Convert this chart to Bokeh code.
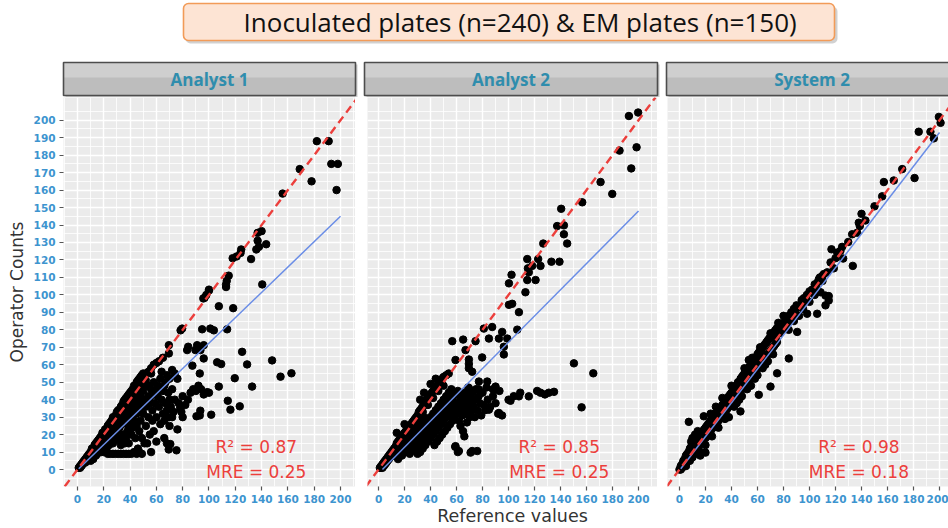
from bokeh.plotting import figure
from bokeh.layouts import column, row
from bokeh.models import Range1d, Label, BoxAnnotation, FixedTicker, Slope
from bokeh.embed import file_html
from bokeh.resources import INLINE

# ---------------- data ----------------
TITLE = "Inoculated plates (n=240)  & EM plates (n=150)"
PANELS = ["Analyst 1", "Analyst 2", "System 2"]
R2_TEXT = ["R² = 0.87", "R² = 0.85", "R² = 0.98"]
MRE_TEXT = ["MRE = 0.25", "MRE = 0.25", "MRE = 0.18"]
X_LABEL = "Reference values"
Y_LABEL = "Operator Counts"
X_TICKS = [0, 20, 40, 60, 80, 100, 120, 140, 160, 180, 200]
X_MINOR = [-10, 10, 30, 50, 70, 90, 110, 130, 150, 170, 190, 210]
Y_TICKS = [0, 10, 20, 30, 40, 50, 60, 70, 80, 90, 100, 110, 120, 130, 140,
           150, 160, 170, 180, 190, 200]
Y_MINOR = [-5, 5, 15, 25, 35, 45, 55, 65, 75, 85, 95, 105, 115, 125, 135,
           145, 155, 165, 175, 185, 195, 205]

# fitted (blue) regression segments
FIT_X = [[1, 200], [3, 200], [1, 200]]
FIT_Y = [[0.5, 145], [0, 148], [0.5, 193]]

analyst1 = [
    (182, 188), (191, 188), (193, 175), (198, 175), (197, 160), (178, 165), (169, 172), (156, 158),
    (140, 136.5), (137, 135.5), (137, 131), (143.5, 129), (138, 127.5), (136, 126), (132, 120.5), (140.5, 106),
    (124.5, 126), (124, 124), (121, 122), (118, 121), (115, 111), (113.5, 108), (113, 106), (113, 104.5),
    (100, 103), (98, 100), (95.7, 98), (100, 102.5), (96.6, 98.3),
    (107.5, 93.5), (118.4, 92.4), (94.8, 80.3), (101, 80.7), (103.7, 79.7), (113.8, 80.3), (79.6, 80.7), (78.4, 79.7),
    (69.5, 71.2), (69.5, 66.5), (84.2, 70.3), (91, 71.2), (93.5, 68.4), (96, 71.2), (89.7, 68.4), (83.4, 68.4),
    (96, 63.6), (87.4, 59.5), (106.2, 61.4), (109.3, 60.4), (129, 60.2), (125.2, 67.4), (148, 62.5), (154.4, 53.2),
    (162.7, 55.1), (132.8, 47.5), (107.5, 47.5), (119.6, 52.3), (98.6, 44.3), (93, 55), (114.3, 39.4), (116.3, 34.3),
    (123.4, 36.2), (101.7, 31.4), (90.5, 30.5), (93.4, 33.7), (93, 31), (69.4, 11.5), (75.3, 11), (70.6, 14.6),
    (1, 1), (2, 2), (2, 1), (3, 3), (3, 2), (4, 4), (4, 3), (5, 5), (5, 4), (6, 6), (6, 4), (7, 7), (7, 5),
    (8, 8), (8, 6), (9, 9), (9, 7), (10, 10), (10, 8), (11, 12), (11, 9), (12, 12), (12, 10), (13, 14), (13, 11),
    (14, 15), (14, 12), (15, 16), (15, 13), (16, 17), (16, 14), (17, 18), (18, 19), (18, 15), (19, 21), (20, 21),
    (20, 17), (21, 23), (22, 23), (22, 19), (23, 25), (24, 26), (24, 20), (25, 27), (26, 28), (26, 22), (27, 30),
    (28, 29), (28, 24), (29, 31), (30, 33), (30, 26), (31, 34), (32, 34), (33, 36), (33, 29), (34, 37), (35, 39),
    (35, 31), (36, 40), (37, 41), (38, 42), (38, 36), (39, 43), (40, 44), (40, 38), (41, 45), (42, 46), (43, 48),
    (44, 48), (45, 50), (46, 51), (47, 52), (48, 53), (49, 54), (50, 55), (52, 55), (54, 56), (56, 58), (58, 60),
    (60, 61), (62, 62), (65, 64), (48, 47), (52, 51), (56, 55), (44, 43), (36, 35),
    (10, 5), (12, 6), (14, 8), (15, 9), (16, 10), (17, 12), (18, 10), (19, 12), (20, 10), (20, 14), (21, 15),
    (22, 12), (23, 16), (24, 14), (25, 9), (25, 17), (26, 18), (27, 9), (27, 15), (28, 20), (29, 9), (29, 17),
    (30, 22), (31, 9), (31, 18), (32, 24), (33, 9), (33, 14), (34, 26), (34, 16), (35, 9), (35, 20), (36, 28),
    (36, 15), (37, 18), (37, 30), (38, 22), (38, 32), (39, 25), (39, 15), (40, 27), (40, 34), (41, 20), (41, 30),
    (42, 36), (42, 24), (43, 10), (43, 28), (44, 38), (44, 18), (45, 32), (45, 25), (46, 40), (46, 12), (47, 35),
    (47, 22), (48, 42), (48, 28), (49, 38), (49, 18), (50, 45), (50, 32), (51, 15), (51, 40), (52, 25), (52, 36),
    (53, 48), (53, 15), (54, 30), (54, 42), (55, 20), (55, 38), (56, 10), (56, 46), (57, 28), (57, 34), (58, 44),
    (58, 22), (59, 38), (60, 16), (60, 30), (61, 48), (61, 42), (62, 36), (63, 26), (63, 52), (64, 40), (65, 32),
    (65, 45), (66, 18), (66, 28), (67, 38), (67, 50), (68, 15), (68, 34), (69, 30), (69, 44), (70, 40), (70, 25),
    (71, 36), (72, 46), (72, 30), (73, 33), (74, 40), (76, 23), (77, 38), (78, 35), (79, 33), (80, 42), (80, 30),
    (82, 37), (84, 40), (86, 44), (88, 46), (90, 45), (92, 48), (94, 46), (96, 43), (100, 44),
    (23, 9), (37, 9), (39, 9), (41, 9), (45, 9), (47, 10), (49, 9),
    (20, 16), (25, 20), (30, 24), (35, 27), (40, 30), (45, 34), (50, 37), (55, 41), (60, 44), (22, 18), (27, 21),
    (32, 25), (37, 28), (42, 32), (47, 36), (52, 40), (57, 43), (62, 46), (66, 48), (70, 52), (74, 55), (64, 56),
    (68, 54), (72, 57), (76, 52), (58, 50), (54, 48), (50, 50), (46, 44), (42, 40), (38, 38),
]

analyst2 = [
    (192.6, 202.4), (199.7, 204.4), (198.5, 184.5), (185.4, 182.6), (194.4, 172.4), (170.8, 164.6), (179.8, 157.8),
    (156.7, 153), (140.5, 149.3), (137.4, 139.4), (142.6, 139.8), (142.6, 134.7), (145.1, 129.4), (126.7, 129.4),
    (133, 119), (139.2, 119), (114.4, 120.5), (122.8, 120.5), (124.6, 116.6), (118.2, 116.6), (114.9, 115.2),
    (115.6, 112.9), (114.4, 108.5), (120.8, 108.5), (102.3, 111.5), (100.3, 106.6), (113, 101.5), (100.3, 94.3),
    (102.8, 94.9), (108, 90.1), (81, 80.7), (87.4, 81.6), (95.1, 78.8), (106.7, 80.1), (84.9, 75), (92.6, 75),
    (99, 75), (96.4, 70.3), (96.4, 65.9), (56.7, 73.5), (65.1, 74.4), (66.9, 68.4), (74.6, 73.5), (79.7, 64.2),
    (69.5, 63), (69.5, 60.5), (69.5, 58), (72, 56), (59.2, 62.7), (150.3, 60.8), (165.2, 55.1), (156.2, 35.6),
    (77, 46), (83, 47), (88, 46), (93, 45), (109, 44), (122, 45), (124.6, 44), (128, 43), (131, 44), (135, 44.5),
    (115.6, 41.9), (101.5, 39.4), (92.6, 32.4), (84.9, 34.3), (108, 41.9), (88.7, 45.6), (90, 47.5), (77.2, 50.4),
    (83.6, 50.4), (69.5, 46.6), (69.5, 44), (69.5, 41), (64.4, 41), (64.4, 37), (64.4, 33), (64.4, 31),
    (72, 10.6), (75.9, 10.6), (70.8, 9.7), (59.2, 13.4), (61.8, 10.6),
    (1, 1), (2, 2), (2, 1), (3, 3), (3, 1), (4, 4), (4, 2), (5, 5), (5, 3), (6, 6), (6, 4), (7, 7), (7, 5),
    (8, 8), (8, 6), (9, 9), (9, 7), (10, 10), (10, 8), (11, 11), (11, 8), (12, 12), (12, 9), (13, 13), (13, 10),
    (14, 15), (14, 11), (15, 16), (15, 12), (16, 17), (16, 13), (17, 18), (17, 14), (18, 19), (18, 14), (19, 20),
    (19, 16), (20, 21), (20, 16), (21, 22), (21, 17), (22, 23), (22, 18), (23, 24), (23, 18), (24, 25), (24, 19),
    (25, 26), (25, 20), (26, 27), (27, 28), (27, 22), (28, 29), (29, 30), (29, 24), (30, 31), (31, 33), (31, 26),
    (32, 34), (33, 35), (33, 28), (34, 36), (35, 37), (35, 30), (36, 38), (37, 40), (38, 41), (39, 42), (40, 43),
    (41, 44), (42, 45), (43, 46), (44, 47), (45, 48), (46, 49), (47, 50), (48, 51), (49, 52), (50, 53), (52, 54),
    (54, 55), (50, 48), (46, 45), (42, 41), (38, 37), (34, 33), (30, 29), (26, 25), (22, 21), (18, 17),
    (14, 21), (20, 26), (32, 40), (40, 49), (44, 52), (35, 44),
    (15, 6), (18, 8), (20, 10), (22, 12), (24, 9), (25, 14), (26, 16), (27, 11), (28, 18), (29, 13), (30, 20),
    (30, 9), (31, 15), (32, 22), (32, 10), (33, 17), (34, 24), (34, 12), (35, 19), (36, 26), (36, 14), (37, 21),
    (38, 28), (38, 16), (39, 23), (40, 30), (40, 18), (41, 25), (42, 32), (42, 20), (43, 14), (43, 27), (44, 34),
    (44, 22), (45, 16), (45, 29), (46, 36), (46, 24), (47, 18), (47, 31), (48, 38), (48, 26), (49, 20), (49, 33),
    (50, 40), (50, 28), (51, 22), (51, 35), (52, 42), (52, 30), (53, 24), (53, 37), (54, 44), (54, 32), (55, 26),
    (55, 39), (56, 46), (56, 34), (57, 28), (57, 41), (58, 36), (58, 30), (59, 13), (59, 43), (60, 38), (60, 32),
    (61, 45), (61, 10), (62, 35), (62, 28), (63, 40), (63, 25), (64, 41), (64, 37), (64, 33), (65, 22), (65, 44),
    (66, 36), (66, 19), (67, 32), (67, 42), (68, 27), (68, 39), (69, 35), (69, 47), (70, 30), (70, 42), (71, 38),
    (71, 33), (72, 44), (73, 36), (74, 40), (74, 30), (75, 46), (76, 34), (77, 42), (78, 38), (79, 31), (80, 44),
    (81, 37), (82, 34), (84, 40), (86, 36), (88, 42), (90, 38), (95, 31), (92, 32), (100, 40), (104, 42),
]

system2 = [
    (199.5, 201.9), (200.8, 198.5), (193, 193.4), (184, 193.4), (195.6, 189.6), (171.3, 172), (164.8, 165.5),
    (157.2, 164.6), (180.8, 166.9), (155.9, 156.4), (150, 150.7), (140, 146.4), (137.9, 141.3), (143, 142.6),
    (138.7, 139.4), (136.7, 135.6), (132.8, 134.7), (129.8, 130.3), (125.1, 127.5), (123.8, 125.2), (116.9, 126.1),
    (121.3, 124.2), (120, 121), (125.9, 120.8), (116.2, 118.6), (118.7, 115.2), (113.6, 112.9), (111, 111.9),
    (133.3, 116.6), (107.2, 109), (102, 101.5), (108.5, 101.5), (114.8, 99.3), (95.6, 98.1), (112.3, 99.6),
    (112.3, 94), (114.8, 96.8), (103.3, 101.5), (105.9, 89.2), (98.2, 89.2), (90.5, 78.8), (84.1, 63.6),
    (75.1, 55.1), (70, 47.5), (61, 42.8), (46.9, 33.3), (20, 9.7), (7.2, 27.3), (18.7, 30.5), (53.3, 62.7),
    (0, 0), (1, 2), (1, 0), (2, 3), (2, 1), (3, 5), (3, 2), (4, 6), (4, 3), (5, 8), (5, 4), (5, 2), (6, 9),
    (6, 5), (7, 10), (7, 6), (8, 12), (8, 7), (8, 5), (9, 13), (9, 8), (10, 14), (10, 9), (10, 7), (11, 15),
    (11, 10), (12, 16), (12, 11), (12, 9), (13, 17), (13, 12), (14, 18), (14, 12), (15, 19), (15, 14), (15, 11),
    (16, 20), (16, 15), (17, 21), (17, 15), (18, 22), (18, 17), (19, 23), (19, 18), (20, 24), (20, 18), (21, 25),
    (21, 19), (22, 26), (22, 20), (23, 27), (23, 22), (24, 28), (24, 22), (25, 29), (25, 24), (26, 30), (26, 24),
    (27, 31), (27, 26), (28, 32), (28, 26), (29, 33), (29, 27), (30, 34), (30, 28), (31, 35), (31, 29), (32, 35),
    (32, 30), (33, 37), (33, 31), (34, 38), (34, 32), (35, 39), (35, 33), (36, 40), (36, 34), (37, 41), (37, 35),
    (38, 42), (38, 36), (39, 43), (39, 37), (40, 44), (40, 38), (41, 45), (41, 39), (42, 46), (42, 40), (43, 47),
    (43, 41), (44, 48), (44, 42), (45, 50), (45, 43), (46, 50), (46, 44), (47, 52), (47, 45), (48, 53), (48, 46),
    (49, 54), (49, 47), (50, 55), (50, 48), (51, 56), (51, 49), (52, 57), (52, 50), (53, 58), (53, 51), (54, 59),
    (54, 52), (55, 60), (55, 53), (56, 61), (56, 54), (57, 62), (57, 55), (58, 63), (58, 56), (59, 64), (59, 57),
    (60, 66), (60, 58), (61, 67), (61, 59), (62, 68), (62, 60), (63, 68), (63, 61), (64, 70), (64, 62), (65, 71),
    (65, 63), (66, 72), (66, 64), (67, 73), (67, 65), (68, 74), (68, 66), (69, 75), (69, 67), (70, 76), (70, 68),
    (71, 77), (71, 69), (72, 78), (72, 70), (73, 79), (73, 71), (74, 80), (74, 72), (75, 81), (75, 73), (76, 80),
    (77, 78), (78, 82), (79, 80), (80, 84), (81, 82), (82, 86), (83, 84), (84, 88), (85, 86), (86, 90), (87, 88),
    (88, 92), (89, 90), (90, 94), (92, 93), (94, 97), (96, 96), (98, 100), (100, 102), (102, 103), (104, 106),
    (106, 107), (108, 110), (110, 111),
    (12, 20), (14, 22), (10, 18), (9, 16), (16, 8), (20, 14), (25, 19), (30, 24), (35, 29), (38, 30), (42, 36),
    (44, 38), (46, 40), (48, 42), (52, 46), (55, 48), (58, 52), (60, 54), (64, 58), (66, 60), (68, 62), (72, 66),
    (24, 32), (28, 36), (33, 41), (40, 48), (50, 58), (56, 64), (62, 70), (70, 78), (76, 84), (80, 88), (84, 80),
    (88, 85), (92, 88), (95, 92), (100, 96), (104, 100), (106, 103), (110, 108), (34, 40), (44, 45), (54, 55),
    (64, 65), (74, 75), (84, 85), (94, 95), (58, 54), (52, 53), (47, 49), (41, 42), (36, 37), (31, 32), (26, 27),
    (21, 22), (17, 18), (13, 14), (9, 10), (6, 7), (3, 4),
]

SERIES = [analyst1, analyst2, system2]

# ---------------- style / layout ----------------
TOP_H = 97
PANEL_H = 431
WIDTHS = [355, 302, 291]
LEFT_B = [63, 12, 10]
XRANGES = [(-10.6, 211.4), (-8.5, 214.6), (-9.2, 206.9)]
YRANGE = (-9.7, 213)
TEXT_X = [136, 139, 138]
TICK_BLUE = "#3d94cf"
RED = "#ec3f3c"

# top strip: title box + facet headers
top = figure(width=948, height=TOP_H, x_range=Range1d(0, 948), y_range=Range1d(0, TOP_H),
             output_backend="svg", toolbar_location=None, min_border=0,
             x_axis_location=None, y_axis_location=None)
top.grid.visible = False
top.outline_line_color = None
top.background_fill_color = "white"
top.border_fill_color = "white"

def box(l, r, t, b, fill, line=None, lw=1.0, alpha=1.0, radius=0):
    return BoxAnnotation(left=l, right=r, top=t, bottom=b, fill_color=fill, fill_alpha=alpha,
                         line_color=line, line_alpha=1.0, line_width=lw, border_radius=radius)

# title box
top.add_layout(box(185, 837, 91, 54, "#9a9a9a", alpha=0.45, radius=5))
top.add_layout(box(183, 834, 94, 57, "#fde4d4", "#f29b58", 1.6, radius=5))
top.add_layout(Label(x=523, y=75.5, text=TITLE, text_align="center", text_baseline="middle",
                     text_font="Open Sans", text_font_size="26px", text_color="#111111"))

HEAD_L = [63, 364, 666]
HEAD_R = [355, 657, 962]
for i in range(3):
    l, r = HEAD_L[i], HEAD_R[i]
    top.add_layout(box(l + 2, r + 2, 33, 0, "#8c8c8c", alpha=0.45))
    top.add_layout(box(l, r, 35, 2, "#bdbdbd"))
    top.add_layout(box(l, r, 35, 20, "#cfcfcf"))
    top.add_layout(box(l, r, 35, 2, None, "#4d4d4d", 1.6, alpha=0.0))
    top.add_layout(Label(x=(l + min(r, 957)) / 2, y=18, text=PANELS[i], text_align="center",
                         text_baseline="middle", text_font="Open Sans", text_font_style="bold",
                         text_font_size="17px", text_color="#2f8dad"))

panels = []
for i in range(3):
    p = figure(width=WIDTHS[i], height=PANEL_H, x_range=Range1d(*XRANGES[i]), y_range=Range1d(*YRANGE),
               output_backend="svg", toolbar_location=None,
               min_border_left=LEFT_B[i], min_border_right=0, min_border_top=0, min_border_bottom=42)
    p.background_fill_color = "#ebebeb"
    p.border_fill_color = "white"
    p.outline_line_color = None

    p.xaxis.ticker = FixedTicker(ticks=X_TICKS, minor_ticks=X_MINOR)
    p.yaxis.ticker = FixedTicker(ticks=Y_TICKS, minor_ticks=Y_MINOR)
    p.xgrid.ticker = FixedTicker(ticks=X_TICKS, minor_ticks=X_MINOR)
    p.ygrid.ticker = FixedTicker(ticks=Y_TICKS, minor_ticks=Y_MINOR)
    for g in (p.xgrid, p.ygrid):
        g.grid_line_color = "white"
        g.grid_line_width = 1.4
        g.minor_grid_line_color = "white"
        g.minor_grid_line_width = 0.8

    for ax in (p.xaxis, p.yaxis):
        ax.axis_line_color = None
        ax.major_tick_line_color = "#555555"
        ax.major_tick_line_width = 1.2
        ax.major_tick_out = 4
        ax.major_tick_in = 0
        ax.minor_tick_line_color = None
        ax.major_label_text_color = TICK_BLUE
        ax.major_label_text_font = "DejaVu Sans"
        ax.major_label_text_font_style = "bold"
        ax.major_label_text_font_size = "10.5px"
        ax.major_label_standoff = 4

    if i == 0:
        p.yaxis.axis_label = Y_LABEL
        p.yaxis.axis_label_text_font = "DejaVu Sans"
        p.yaxis.axis_label_text_font_style = "normal"
        p.yaxis.axis_label_text_font_size = "17px"
        p.yaxis.axis_label_text_color = "#333333"
        p.yaxis.axis_label_standoff = 4
    else:
        p.yaxis.visible = False

    if i == 1:
        p.xaxis.axis_label = X_LABEL
        p.xaxis.axis_label_text_font = "DejaVu Sans"
        p.xaxis.axis_label_text_font_style = "normal"
        p.xaxis.axis_label_text_font_size = "17.5px"
        p.xaxis.axis_label_text_color = "#333333"
        p.xaxis.axis_label_standoff = 0

    xs = [pt[0] for pt in SERIES[i]]
    ys = [pt[1] for pt in SERIES[i]]
    p.scatter(xs, ys, size=7.5, fill_color="black", line_color="black")

    p.line(FIT_X[i], FIT_Y[i], line_color="#6a8de6", line_width=1.5)
    p.add_layout(Slope(gradient=1, y_intercept=0, line_color=RED, line_width=2.4, line_dash="8 5"))

    p.add_layout(Label(x=TEXT_X[i], y=13, text=R2_TEXT[i], text_align="center", text_baseline="middle",
                       text_font="DejaVu Sans", text_font_size="17px", text_color=RED))
    p.add_layout(Label(x=TEXT_X[i], y=-1.5, text=MRE_TEXT[i], text_align="center", text_baseline="middle",
                       text_font="DejaVu Sans", text_font_size="17px", text_color=RED))
    panels.append(p)

layout = column(top, row(*panels, spacing=0), spacing=0)
open("out.html", "w").write(file_html(layout, INLINE))
